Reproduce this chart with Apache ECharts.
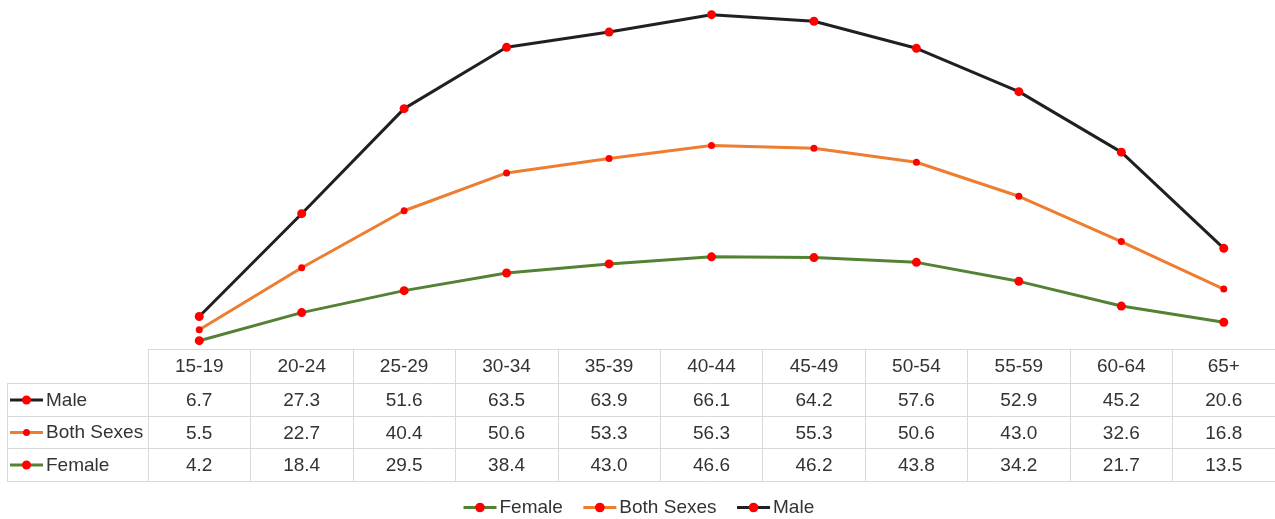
<!DOCTYPE html>
<html>
<head>
<meta charset="utf-8">
<script src="https://cdn.jsdelivr.net/npm/echarts@6/dist/echarts.min.js"></script>
<style>
html,body{margin:0;padding:0;background:#fff;}
#chart{width:1275px;height:519px;}
</style>
</head>
<body>
<div id="chart"></div>
<script>
const categories = ['15-19','20-24','25-29','30-34','35-39','40-44','45-49','50-54','55-59','60-64','65+'];
const male = [6.7, 27.3, 51.6, 63.5, 63.9, 66.1, 64.2, 57.6, 52.9, 45.2, 20.6];
const both = [5.5, 22.7, 40.4, 50.6, 53.3, 56.3, 55.3, 50.6, 43.0, 32.6, 16.8];
const female = [4.2, 18.4, 29.5, 38.4, 43.0, 46.6, 46.2, 43.8, 34.2, 21.7, 13.5];

const FONT = '"Liberation Sans", Arial, sans-serif';
const TXT = '#333333';
const GRID_LINE = '#d9d9d9';
const C_MALE = '#231f20', C_BOTH = '#ed7d31', C_FEMALE = '#548235', MARK = '#ff0000';
const FS = 19;

const chart = echarts.init(document.getElementById('chart'), null, {renderer: 'canvas'});

function tableAxis(data, offset, tickLen, showLabel) {
  return {
    type: 'category', position: 'bottom', offset: offset, data: data,
    boundaryGap: true,
    axisLine: {show: true, onZero: false, lineStyle: {color: GRID_LINE, width: 1}},
    axisTick: {show: tickLen > 0, inside: false, length: tickLen, interval: 0, lineStyle: {color: GRID_LINE, width: 1}},
    axisLabel: {show: showLabel, interval: 0, margin: 8, color: TXT, fontSize: FS, fontFamily: FONT},
    splitLine: {show: false}
  };
}
const fmt = a => a.map(v => v.toFixed(1));

const rows = [
  {name: 'Male', color: C_MALE, r: 4.5},
  {name: 'Both Sexes', color: C_BOTH, r: 3.5},
  {name: 'Female', color: C_FEMALE, r: 4.5}
];
const rowTop = [383, 416, 448];
const rowH = [33, 32, 33];
const graphics = [];
[383, 416, 448, 481].forEach(y => graphics.push({type: 'line', shape: {x1: 7, y1: y + 0.5, x2: 148, y2: y + 0.5}, style: {stroke: GRID_LINE, lineWidth: 1}}));
graphics.push({type: 'line', shape: {x1: 7.5, y1: 383, x2: 7.5, y2: 481}, style: {stroke: GRID_LINE, lineWidth: 1}});
rows.forEach((r, i) => {
  const cy = rowTop[i] + rowH[i] / 2 + 0.5;
  graphics.push({type: 'line', shape: {x1: 10, y1: cy, x2: 43, y2: cy}, style: {stroke: r.color, lineWidth: 3}});
  graphics.push({type: 'circle', shape: {cx: 26.5, cy: cy, r: r.r}, style: {fill: MARK}});
  graphics.push({type: 'text', x: 46, y: cy + 0.5, style: {text: r.name, fill: TXT, font: FS + 'px ' + FONT, textVerticalAlign: 'middle', verticalAlign: 'middle'}});
});

const option = {
  animation: false,
  backgroundColor: '#fff',
  grid: {left: 148, top: 12.7, width: 1130, height: 336.3, containLabel: false},
  legend: {
    data: ['Female', 'Both Sexes', 'Male'],
    top: 493, left: 457,
    itemWidth: 33, itemHeight: 12, itemGap: 19,
    lineStyle: {width: 3},
    textStyle: {color: TXT, fontSize: FS, fontFamily: FONT, padding: [0, 0, 0, -2]}
  },
  xAxis: [
    tableAxis(categories, 0, 34, true),
    tableAxis(fmt(male), 34, 33, true),
    tableAxis(fmt(both), 67, 32, true),
    tableAxis(fmt(female), 99, 33, true),
    tableAxis(categories, 132, 0, false)
  ],
  yAxis: {type: 'value', min: 0, max: 170, show: false, splitLine: {show: false}},
  series: [
    {name: 'Female', type: 'line', stack: 'total', data: female, symbol: 'circle', symbolSize: 9,
     lineStyle: {color: C_FEMALE, width: 3}, itemStyle: {color: MARK}},
    {name: 'Both Sexes', type: 'line', stack: 'total', data: both, symbol: 'circle', symbolSize: 7,
     lineStyle: {color: C_BOTH, width: 3}, itemStyle: {color: MARK}},
    {name: 'Male', type: 'line', stack: 'total', data: male, symbol: 'circle', symbolSize: 9,
     lineStyle: {color: C_MALE, width: 3}, itemStyle: {color: MARK}}
  ],
  graphic: graphics
};
chart.setOption(option);
</script>
</body>
</html>
